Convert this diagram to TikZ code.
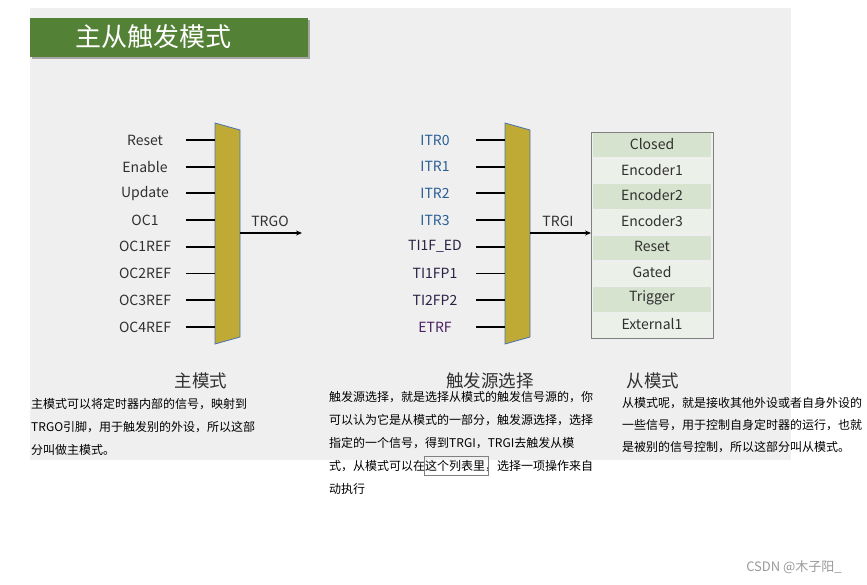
\documentclass[tikz,border=0pt]{standalone}
\usepackage{fontspec}
\setmainfont{Noto Sans CJK SC}
\usetikzlibrary{arrows.meta}
\definecolor{bg}{HTML}{EFEFEF}
\definecolor{titlegreen}{HTML}{538135}
\definecolor{muxfill}{HTML}{BFAA35}
\definecolor{muxedge}{HTML}{4A72B0}
\definecolor{labgray}{HTML}{303030}
\definecolor{itrblue}{HTML}{2A5E96}
\definecolor{tinavy}{HTML}{2B2145}
\definecolor{etrfpurple}{HTML}{4B2060}
\definecolor{rowdark}{HTML}{D6E3CF}
\definecolor{rowlight}{HTML}{EBF0E8}
\definecolor{tblborder}{HTML}{808080}
\definecolor{wm}{HTML}{9A9A9A}
\begin{document}
\begin{tikzpicture}[x=1pt,y=-1pt,
  lbl/.style={font=\fontsize{14}{16}\selectfont, text=labgray, inner sep=0},
  cellt/.style={font=\fontsize{14}{16}\selectfont, text=labgray, inner sep=0},
  head/.style={font=\fontsize{17.5}{20}\selectfont, text=labgray, inner sep=0},
  desc/.style={font=\fontsize{12}{14}\selectfont, text=black, inner sep=0, anchor=west},
  inwire/.style={line width=1.8pt, black},
  outwire/.style={line width=1.5pt, black, -{Stealth[length=6pt,width=5pt]}},
  mux/.style={fill=muxfill, draw=muxedge, line width=0.8pt}]
\useasboundingbox (0,0) rectangle (867,585);
\fill[white] (0,0) rectangle (867,585);
\fill[bg] (30,8) rectangle (791,460);

% title banner
\fill[black!35] (32,20) rectangle (310,59);
\fill[titlegreen] (30,18) rectangle (308,57);
\node[font=\fontsize{26}{30}\selectfont, text=white, inner sep=0] (title) at (153,37) {主从触发模式};

% master mux
\path[mux] (215,123) -- (240,130) -- (240,337) -- (215,344) -- cycle;
\foreach \i/\t in {0/Reset,1/Enable,2/Update,3/OC1,4/OC1REF,5/OC2REF,6/OC3REF,7/OC4REF}{
  \node[lbl] (ma\i) at (145,140+\i*26.7) {\t};
  \coordinate (mas\i) at (186,140+\i*26.7);
  \coordinate (mae\i) at (215,140+\i*26.7);
  \draw[inwire] (mas\i) -- (mae\i);
}
\coordinate (maout) at (240,233);
\coordinate (trgoend) at (302,233);
\draw[outwire] (maout) -- (trgoend);
\node[lbl] (trgo) at (270,221) {TRGO};

% trigger selection mux
\path[mux] (505,123) -- (530,130) -- (530,337) -- (505,344) -- cycle;
\foreach \i/\t/\c in {0/ITR0/itrblue,1/ITR1/itrblue,2/ITR2/itrblue,3/ITR3/itrblue,4/TI1F\_ED/tinavy,5/TI1FP1/tinavy,6/TI2FP2/tinavy,7/ETRF/etrfpurple}{
  \node[lbl, text=\c] (mb\i) at (435,140+\i*26.7) {\t};
  \coordinate (mbs\i) at (476,140+\i*26.7);
  \coordinate (mbe\i) at (505,140+\i*26.7);
  \draw[inwire] (mbs\i) -- (mbe\i);
}
\coordinate (mbout) at (530,233);
\node[lbl] (trgi) at (558,221) {TRGI};

% slave mode table
\foreach \i/\t in {0/Closed,1/Encoder1,2/Encoder2,3/Encoder3,4/Reset,5/Gated,6/Trigger,7/External1}{
  \pgfmathsetmacro{\ya}{132+\i*25.75+(\i>0?1:0.5)}
  \pgfmathsetmacro{\yb}{132+(\i+1)*25.75-(\i<7?0.5:0.5)}
  \pgfmathtruncatemacro{\odd}{mod(\i,2)}
  \ifnum\odd=0 \fill[rowdark] (593,\ya) rectangle (711,\yb);
  \else \fill[rowlight] (593,\ya) rectangle (711,\yb); \fi
  \node[cellt] (sm\i) at (652,144+\i*25.7) {\t};
}
\node[draw=tblborder, line width=1.3pt, minimum width=122pt, minimum height=206pt, inner sep=0, anchor=north west] (tbl) at (591,132) {};
\coordinate (tblin) at (591,233);
\draw[outwire] (mbout) -- (tblin);

% headings
\node[head] (h1) at (201,381) {主模式};
\node[head] (h2) at (490,381) {触发源选择};
\node[head] (h3) at (653,381) {从模式};

% descriptions
\node[desc] (d1a) at (31,404) {主模式可以将定时器内部的信号，映射到};
\node[desc] (d1b) at (31,427) {TRGO引脚，用于触发别的外设，所以这部};
\node[desc] (d1c) at (31,450) {分叫做主模式。};

\node[desc] (d2a) at (329,397) {触发源选择，就是选择从模式的触发信号源的，你};
\node[desc] (d2b) at (329,420) {可以认为它是从模式的一部分，触发源选择，选择};
\node[desc] (d2c) at (329,443) {指定的一个信号，得到TRGI，TRGI去触发从模};
\node[desc] (d2d) at (329,466) {式，从模式可以在这个列表里，选择一项操作来自};
\node[desc] (d2e) at (329,489) {动执行};
\draw[tblborder, line width=0.8pt] (424,456) rectangle (488,475);

\node[desc] (d3a) at (622,403) {从模式呢，就是接收其他外设或者自身外设的};
\node[desc] (d3b) at (622,425) {一些信号，用于控制自身定时器的运行，也就};
\node[desc] (d3c) at (622,447) {是被别的信号控制，所以这部分叫从模式。};

% watermark
\node[font=\fontsize{13}{15}\selectfont, text=wm, inner sep=0] (wmark) at (794,567) {CSDN @木子阳\_};
\end{tikzpicture}
\end{document}
